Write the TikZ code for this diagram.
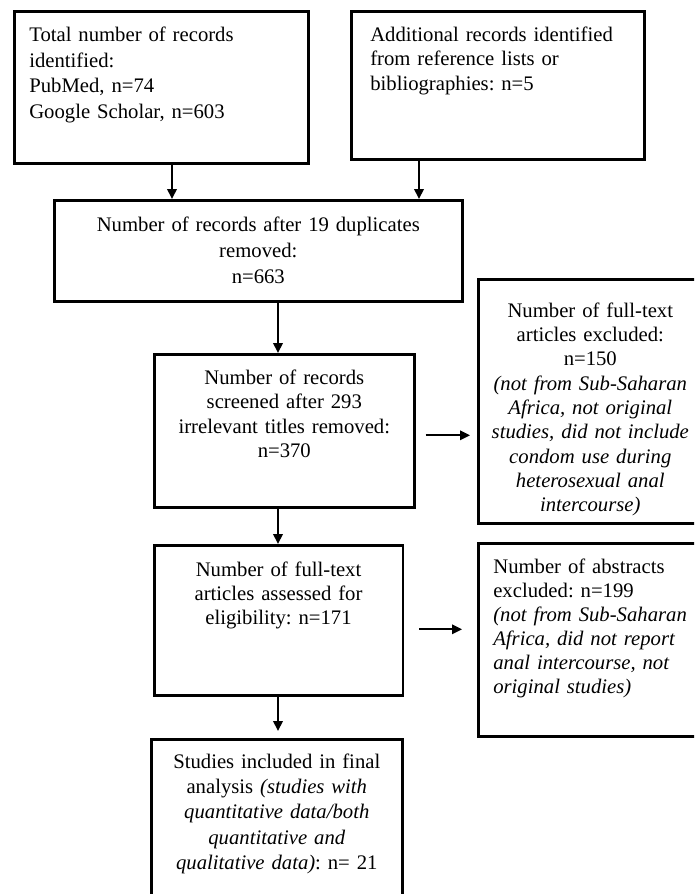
\documentclass[tikz,border=0pt]{standalone}
\usepackage{fontspec}
\setmainfont{Liberation Serif}
\usetikzlibrary{arrows.meta}
\frenchspacing

\begin{document}
\begin{tikzpicture}[x=1pt,y=-1pt,line width=2pt,>={Triangle[length=10pt,width=9.5pt]},
        stage/.style={rectangle,draw=black,line width=2.6pt,anchor=north west,inner ysep=0pt,
            font=\fontsize{20.7}{#1}\selectfont},
        stage/.default=24.5]
        \useasboundingbox (0,0) rectangle (694,894);
        \clip (0,0) rectangle (694,894);
        \node at (13,10)[stage=25.7,inner xsep=15pt,text width=264pt,align=left,text height=30pt,text depth=122pt] (total) {Total number of records\\identified:\\PubMed, n=74\\Google Scholar, n=603};
        \node at (350,10)[stage,inner xsep=19pt,text width=255pt,align=left,text height=30pt,text depth=118pt] (extra) {Additional records identified\\from reference lists or\\bibliographies: n=5};
        \node at (53,199)[stage=26,inner xsep=10pt,text width=388pt,align=center,text height=31pt,text depth=70pt] (dedup) {Number of records after 19 duplicates\\removed:\\n=663};
        \node at (153,353)[stage,inner xsep=8pt,text width=244pt,align=center,text height=30pt,text depth=123pt] (screen) {Number of records\\screened after 293\\irrelevant titles removed:\\n=370};
        \node at (477,278)[stage=24.3,inner xsep=10pt,text width=204pt,align=center,text height=38pt,text depth=206pt] (ftexcl) {Number of full-text\\articles excluded:\\n=150\\{\itshape (not from Sub-Saharan\\Africa, not original\\studies, did not include\\condom use during\\heterosexual anal\\intercourse)}};
        \node at (153,544)[stage=24,inner xsep=8pt,text width=232.5pt,align=center,text height=31pt,text depth=119pt] (assess) {Number of full-text\\articles assessed for\\eligibility: n=171};
        \node at (477,542)[stage=24,inner xsep=15pt,text width=220pt,align=left,text height=30pt,text depth=163pt] (abexcl) {Number of abstracts\\excluded: n=199\\{\itshape (not from Sub-Saharan\\Africa, did not report\\anal intercourse, not\\original studies)}};
        \node at (150,738)[stage=25.3,inner xsep=8pt,text width=235pt,align=center,text height=29pt,text depth=143pt] (final) {Studies included in final\hspace*{19pt}\\analysis \textit{(studies with}\\\textit{quantitative data/both}\\\textit{quantitative and}\\\textit{qualitative data)}: n= 21};
        % drop lines
        \coordinate (leftdrop) at (172,0);
        \coordinate (rightdrop) at (419,0);
        \coordinate (spine) at (278,0);
        \draw [->] (total.south -| leftdrop) to (dedup.north -| leftdrop);
        \draw [->] (extra.south -| rightdrop) to (dedup.north -| rightdrop);
        \draw [->] (dedup.south -| spine) to (screen.north -| spine);
        \draw [->] (screen.south -| spine) to (assess.north -| spine);
        \draw [->,shorten >=7pt] (assess.south -| spine) to (final.north -| spine);
        % side exits
        \draw [->,shorten <=10pt,shorten >=7pt] ([yshift=-4.5pt]screen.east) to ([yshift=-4.5pt]screen.east -| ftexcl.west);
        \draw [->,shorten <=15pt,shorten >=15pt] ([yshift=-9pt]assess.east) to ([yshift=-9pt]assess.east -| abexcl.west);
    \end{tikzpicture}
\end{document}
